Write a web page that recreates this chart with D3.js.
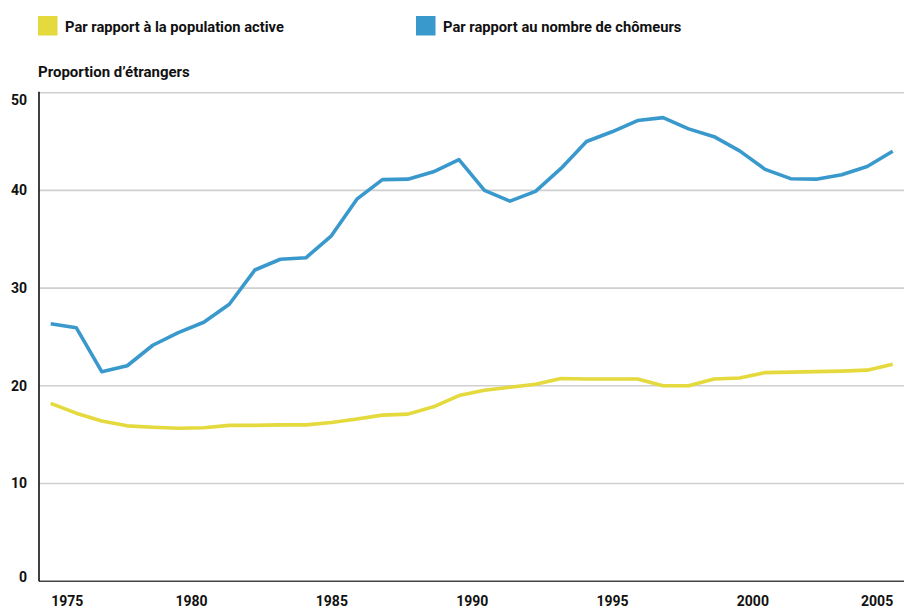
<!DOCTYPE html>
<html>
<head>
<meta charset="utf-8">
<script src="https://cdn.jsdelivr.net/npm/d3@7"></script>
<style>
  html, body { margin: 0; padding: 0; background: #fff; }
  svg { display: block; font-family: Roboto, "Noto Sans", sans-serif; font-weight: 700; }
</style>
</head>
<body>
<svg id="chart" width="904" height="610"></svg>
<script>
// Proportion d'étrangers (%), 34 observations 1975–2005
const seriesNames = ["Par rapport à la population active", "Par rapport au nombre de chômeurs"];
const seriesColors = ["#e4d93d", "#3a99cc"];

const populationActive = [
  18.2, 17.2, 16.4, 15.9, 15.75, 15.65, 15.7, 15.95, 15.95, 16.0, 16.0, 16.25,
  16.6, 17.0, 17.1, 17.85, 19.0, 19.55, 19.85, 20.15, 20.75, 20.7, 20.7, 20.7,
  20.0, 20.0, 20.7, 20.8, 21.35, 21.4, 21.45, 21.5, 21.6, 22.2
];
const nombreChomeurs = [
  26.35, 25.95, 21.45, 22.05, 24.15, 25.45, 26.5, 28.35, 31.85, 32.95, 33.1, 35.35,
  39.1, 41.1, 41.15, 41.9, 43.15, 40.0, 38.9, 39.9, 42.25, 45.0, 46.0, 47.15,
  47.45, 46.3, 45.5, 44.05, 42.15, 41.2, 41.15, 41.6, 42.45, 44.0
];

const yTicks = [0, 10, 20, 30, 40, 50];
const xTickYears = [1975, 1980, 1985, 1990, 1995, 2000, 2005];

const svg = d3.select("#chart");
const plotLeft = 39, plotRight = 904, plotTop = 92.7, plotBottom = 581.2;
const x0 = 50.7, x1 = 892.7;

const xObs = d3.scalePoint().domain(d3.range(populationActive.length)).range([x0, x1]);
const xYear = d3.scaleLinear().domain([1975, 2005]).range([x0, x1]);
const y = d3.scaleLinear().domain([0, 50]).range([plotBottom, plotTop]);

// Horizontal gridlines
svg.append("g")
  .selectAll("line")
  .data(yTicks.filter(d => d > 0))
  .join("line")
  .attr("x1", plotLeft).attr("x2", plotRight)
  .attr("y1", d => y(d)).attr("y2", d => y(d))
  .attr("stroke", "#cfcfcf").attr("stroke-width", 1.6);

// Y axis labels
const yAxis = d3.axisLeft(y).tickValues(yTicks).tickSize(0).tickPadding(0);
const gy = svg.append("g").attr("transform", `translate(27,0)`).call(yAxis);
gy.select(".domain").remove();
gy.selectAll("text")
  .attr("font-family", "Roboto, sans-serif").attr("font-weight", 700)
  .attr("font-size", 14).attr("fill", "#111")
  .attr("dy", d => d === 50 ? "0.85em" : d === 0 ? "0" : "0.32em");

// X axis labels
const xAxis = d3.axisBottom(xYear).tickValues(xTickYears).tickFormat(d3.format("d")).tickSize(0).tickPadding(0);
const gx = svg.append("g").attr("transform", `translate(0,596)`).call(xAxis);
gx.select(".domain").remove();
gx.selectAll("text")
  .attr("font-family", "Roboto, sans-serif").attr("font-weight", 700)
  .attr("font-size", 14).attr("fill", "#111")
  .attr("text-anchor", d => d === 1975 ? "start" : d === 2005 ? "end" : "middle");

// Axis lines
svg.append("line").attr("x1", plotLeft).attr("x2", plotRight).attr("y1", plotBottom).attr("y2", plotBottom)
  .attr("stroke", "#444").attr("stroke-width", 1.6);
svg.append("line").attr("x1", plotLeft).attr("x2", plotLeft).attr("y1", plotTop - 1).attr("y2", plotBottom)
  .attr("stroke", "#111").attr("stroke-width", 1.6);

// Lines
const line = d3.line().x((d, i) => xObs(i)).y(d => y(d));
[populationActive, nombreChomeurs].forEach((s, k) => {
  svg.append("path").datum(s)
    .attr("d", line)
    .attr("fill", "none")
    .attr("stroke", seriesColors[k])
    .attr("stroke-width", 3.6)
    .attr("stroke-linejoin", "round");
});

// Axis title
svg.append("text").attr("x", 38).attr("y", 77)
  .attr("font-size", 15).attr("fill", "#111")
  .text("Proportion d’étrangers");

// Legend
const legendX = [38, 416];
const lg = svg.append("g").selectAll("g").data(seriesNames).join("g")
  .attr("transform", (d, i) => `translate(${legendX[i]},16)`);
lg.append("rect").attr("width", 19.5).attr("height", 19.5).attr("fill", (d, i) => seriesColors[i]);
lg.append("text").attr("x", 27).attr("y", 15.5)
  .attr("font-size", 14.7).attr("fill", "#111")
  .text(d => d);
</script>
</body>
</html>
